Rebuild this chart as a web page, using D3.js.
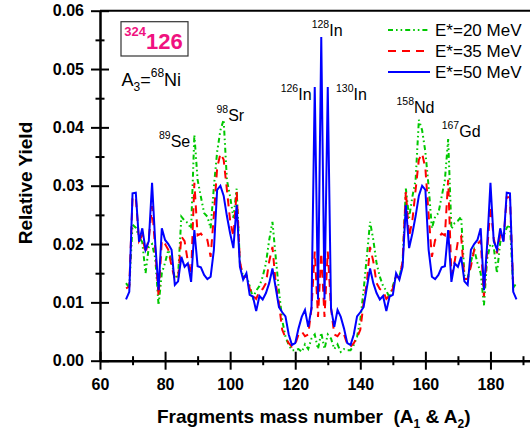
<!DOCTYPE html>
<html><head><meta charset="utf-8">
<script src="https://cdn.jsdelivr.net/npm/d3@7"></script>
<style>body{margin:0;background:#fff}text{font-family:"Liberation Sans",Arial,sans-serif}</style>
</head><body><svg id="c" width="530" height="432"></svg>
<script>
// Fragment mass numbers A = 68 ... 188
const massNumbers = d3.range(68, 189);
const xTicks = [60, 80, 100, 120, 140, 160, 180];
const xMinor = [70, 90, 110, 130, 150, 170, 190];
const yTicks = [0, 0.01, 0.02, 0.03, 0.04, 0.05, 0.06];
const yMinor = [0.005, 0.015, 0.025, 0.035, 0.045, 0.055];
const seriesNames = ["E*=20 MeV", "E*=35 MeV", "E*=50 MeV"];

const yieldE20 = [
 0.0133,0.0125,0.0233,0.0228,0.0213,0.0203,0.0150,0.0195,0.0200,0.0175,
 0.0095,0.0150,0.0168,0.0190,0.0170,0.0141,0.0146,0.0247,0.0240,0.0236,
 0.0226,0.0387,0.0310,0.0281,0.0253,0.0247,0.0227,0.0298,0.0358,0.0395,
 0.0413,0.0310,0.0281,0.0245,0.0295,0.0167,0.0144,0.0146,0.0128,0.0108,
 0.0120,0.0128,0.0144,0.0167,0.0207,0.0238,0.0178,0.0120,0.0070,0.0041,
 0.0027,0.0018,0.0018,0.0020,0.0015,0.0028,0.0020,0.0038,0.0045,0.0020,
 0.0048,
 0.0020,0.0045,0.0038,0.0020,0.0028,0.0015,0.0020,0.0018,0.0018,0.0027,
 0.0041,0.0070,0.0120,0.0178,0.0238,0.0207,0.0167,0.0144,0.0128,0.0120,
 0.0108,0.0128,0.0146,0.0144,0.0167,0.0295,0.0245,0.0281,0.0310,0.0413,
 0.0395,0.0358,0.0298,0.0227,0.0247,0.0253,0.0281,0.0310,0.0380,0.0226,
 0.0236,0.0240,0.0247,0.0146,0.0141,0.0170,0.0190,0.0168,0.0150,0.0095,
 0.0175,0.0200,0.0195,0.0150,0.0203,0.0213,0.0228,0.0233,0.0125,0.0133
];
const yieldE35 = [
 0.0124,0.0127,0.0280,0.0280,0.0205,0.0215,0.0184,0.0210,0.0265,0.0190,
 0.0110,0.0206,0.0200,0.0190,0.0162,0.0140,0.0140,0.0213,0.0205,0.0170,
 0.0147,0.0305,0.0215,0.0218,0.0210,0.0207,0.0178,0.0250,0.0330,0.0355,
 0.0345,0.0293,0.0240,0.0213,0.0290,0.0170,0.0142,0.0145,0.0124,0.0112,
 0.0106,0.0119,0.0123,0.0133,0.0170,0.0195,0.0133,0.0098,0.0053,0.0040,
 0.0030,0.0024,0.0028,0.0045,0.0050,0.0042,0.0045,0.0090,0.0187,0.0075,
 0.0185,
 0.0075,0.0187,0.0090,0.0045,0.0042,0.0050,0.0045,0.0028,0.0024,0.0030,
 0.0040,0.0053,0.0098,0.0133,0.0195,0.0170,0.0133,0.0123,0.0119,0.0106,
 0.0112,0.0124,0.0145,0.0142,0.0170,0.0290,0.0213,0.0240,0.0293,0.0345,
 0.0355,0.0330,0.0250,0.0178,0.0207,0.0210,0.0218,0.0215,0.0310,0.0147,
 0.0170,0.0205,0.0213,0.0140,0.0140,0.0162,0.0190,0.0200,0.0206,0.0110,
 0.0190,0.0265,0.0210,0.0184,0.0215,0.0205,0.0280,0.0280,0.0127,0.0124
];
const yieldE50 = [
 0.0105,0.0118,0.0287,0.0288,0.0204,0.0227,0.0190,0.0205,0.0305,0.0200,
 0.0121,0.0227,0.0207,0.0200,0.0190,0.0130,0.0136,0.0178,0.0161,0.0167,
 0.0135,0.0224,0.0162,0.0160,0.0147,0.0140,0.0144,0.0190,0.0293,0.0300,
 0.0283,0.0248,0.0218,0.0193,0.0267,0.0161,0.0139,0.0150,0.0113,0.0110,
 0.0085,0.0111,0.0105,0.0116,0.0133,0.0158,0.0125,0.0092,0.0083,0.0076,
 0.0045,0.0027,0.0030,0.0055,0.0075,0.0087,0.0058,0.0090,0.0469,0.0105,
 0.0555,
 0.0105,0.0469,0.0090,0.0058,0.0087,0.0075,0.0055,0.0030,0.0027,0.0045,
 0.0076,0.0083,0.0092,0.0125,0.0158,0.0133,0.0116,0.0105,0.0111,0.0085,
 0.0110,0.0113,0.0150,0.0139,0.0161,0.0267,0.0193,0.0218,0.0248,0.0283,
 0.0300,0.0293,0.0190,0.0144,0.0140,0.0147,0.0160,0.0162,0.0224,0.0135,
 0.0167,0.0161,0.0178,0.0136,0.0130,0.0190,0.0200,0.0207,0.0227,0.0121,
 0.0200,0.0305,0.0205,0.0190,0.0227,0.0204,0.0288,0.0287,0.0118,0.0105
];

// peak annotations
const peakLabels = [
  {x: 159, y: 146.7, sup: "89", sym: "Se"},
  {x: 216.5, y: 121, sup: "98", sym: "Sr"},
  {x: 280.7, y: 100, sup: "126", sym: "In"},
  {x: 311.7, y: 36, sup: "128", sym: "In"},
  {x: 336, y: 100, sup: "130", sym: "In"},
  {x: 396.5, y: 113.3, sup: "158", sym: "Nd"},
  {x: 441.7, y: 136.7, sup: "167", sym: "Gd"}
];

const svg = d3.select("#c");
const x = d3.scaleLinear().domain([60, 192]).range([100, 529.5]);
const y = d3.scaleLinear().domain([0, 0.06]).range([360.7, 10.7]);

const styles = [
  {color: "#00c800", dash: "5,3,1.6,3,1.6,3"},
  {color: "#ff0000", dash: "8,6"},
  {color: "#0000ff", dash: null}
];
const allSeries = [yieldE20, yieldE35, yieldE50];

const line = d3.line().x((d, i) => x(massNumbers[i])).y(d => y(d));
allSeries.forEach((s, k) => {
  svg.append("path").datum(s)
    .attr("d", line)
    .attr("fill", "none")
    .attr("stroke", styles[k].color)
    .attr("stroke-width", 2)
    .attr("stroke-linejoin", "miter")
    .attr("stroke-dasharray", styles[k].dash);
});

// top frame
svg.append("line").attr("x1", x(60)).attr("x2", 530).attr("y1", y(0.06)).attr("y2", y(0.06))
  .attr("stroke", "#000").attr("stroke-width", 2);

function styleAxis(g, w) {
  g.select(".domain").attr("stroke-width", w);
  g.selectAll(".tick line").attr("stroke-width", 2);
  g.selectAll("text").attr("font-size", 16).attr("font-weight", "bold").attr("fill", "#000")
   .attr("font-family", '"Liberation Sans",Arial,sans-serif');
}
// x axis
const xb = svg.append("g").attr("transform", `translate(0,${y(0)})`)
  .call(d3.axisBottom(x).tickValues(xTicks).tickSize(9).tickSizeOuter(0).tickPadding(9).tickFormat(d3.format("d")));
styleAxis(xb, 2.5);
svg.append("g").attr("transform", `translate(0,${y(0)})`)
  .call(d3.axisBottom(x).tickValues(xTicks).tickSize(-9).tickSizeOuter(0).tickFormat(""))
  .call(g => { g.select(".domain").remove(); g.selectAll(".tick line").attr("stroke-width", 2); });
svg.append("g").attr("transform", `translate(0,${y(0) - 4.5})`)
  .call(d3.axisBottom(x).tickValues(xMinor).tickSize(9).tickSizeOuter(0).tickFormat(""))
  .call(g => { g.select(".domain").remove(); g.selectAll(".tick line").attr("stroke-width", 2); });

// y axis
const yl = svg.append("g").attr("transform", `translate(${x(60)},0)`)
  .call(d3.axisLeft(y).tickValues(yTicks).tickSize(9).tickSizeOuter(0).tickPadding(7).tickFormat(d3.format(".2f")));
styleAxis(yl, 2.5);
svg.append("g").attr("transform", `translate(${x(60)},0)`)
  .call(d3.axisLeft(y).tickValues(yTicks).tickSize(-9).tickSizeOuter(0).tickFormat(""))
  .call(g => { g.select(".domain").remove(); g.selectAll(".tick line").attr("stroke-width", 2); });
svg.append("g").attr("transform", `translate(${x(60) + 4.5},0)`)
  .call(d3.axisLeft(y).tickValues(yMinor).tickSize(9).tickSizeOuter(0).tickFormat(""))
  .call(g => { g.select(".domain").remove(); g.selectAll(".tick line").attr("stroke-width", 2); });

// axis titles
const xt = svg.append("text").attr("x", 157).attr("y", 423).attr("font-size", 19).attr("font-weight", "bold");
xt.append("tspan").text("Fragments mass number \u00A0(A");
xt.append("tspan").attr("font-size", 12).attr("dy", 5).text("1");
xt.append("tspan").attr("dy", -5).text(" & A");
xt.append("tspan").attr("font-size", 12).attr("dy", 5).text("2");
xt.append("tspan").attr("dy", -5).text(")");

svg.append("text").attr("transform", "translate(32,183) rotate(-90)")
  .attr("text-anchor", "middle").attr("font-size", 19).attr("font-weight", "bold").text("Relative Yield");

// legend
seriesNames.forEach((n, k) => {
  const ly = 30 + k * 21;
  svg.append("line").attr("x1", 388).attr("x2", 430).attr("y1", ly).attr("y2", ly)
    .attr("stroke", styles[k].color).attr("stroke-width", 2).attr("stroke-dasharray", styles[k].dash);
  svg.append("text").attr("x", 435).attr("y", ly + 6).attr("font-size", 17).text(n);
});

// box with 324 126
svg.append("rect").attr("x", 121).attr("y", 21.7).attr("width", 67).attr("height", 34.3)
  .attr("fill", "none").attr("stroke", "#333").attr("stroke-width", 1.2);
const bt = svg.append("text").attr("x", 124.3).attr("y", 49.3).attr("fill", "#f0127f").attr("font-weight", "bold");
bt.append("tspan").attr("font-size", 13).attr("dy", -13).text("324");
bt.append("tspan").attr("font-size", 22).attr("dy", 13).text("126");

// A3 = 68Ni
const at = svg.append("text").attr("x", 121.5).attr("y", 86).attr("font-size", 18);
at.append("tspan").text("A");
at.append("tspan").attr("font-size", 12).attr("dy", 5).text("3");
at.append("tspan").attr("dy", -5).text("=");
at.append("tspan").attr("font-size", 12).attr("dy", -9).text("68");
at.append("tspan").attr("dy", 9).text("Ni");

// peak labels
peakLabels.forEach(p => {
  const t = svg.append("text").attr("x", p.x).attr("y", p.y).attr("font-size", 16);
  t.append("tspan").attr("font-size", 10.5).attr("dy", -8).text(p.sup);
  t.append("tspan").attr("dy", 8).text(p.sym);
});
</script></body></html>
